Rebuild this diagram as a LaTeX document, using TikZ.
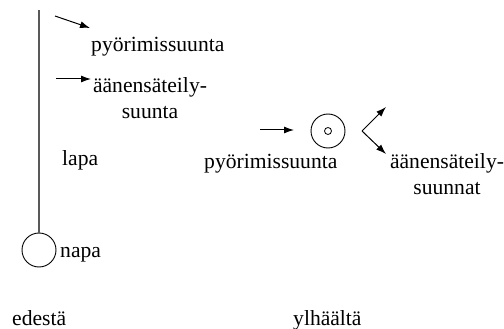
\documentclass[tikz,border=0pt]{standalone}
\usepackage{fontspec}
\setmainfont{Liberation Serif}
\usetikzlibrary{arrows.meta}
\begin{document}
\begin{tikzpicture}[x=1pt,y=-1pt,
  lbl/.style={inner sep=0pt,font=\fontsize{21.6}{26.5}\selectfont},
  mlbl/.style={lbl,align=center},
  arr/.style={line width=1pt,-{Latex[length=10pt,width=7pt]}},
  ring/.style={circle,draw,line width=0.9pt,inner sep=0pt,minimum size=34pt}]
\useasboundingbox (0,0) rectangle (504,329);

% front view: blade and hub
\coordinate (bladetop) at (39,10);
\node[ring] (hub) at (39,250) {};
\draw[line width=1.2pt,black!65] (bladetop) -- (hub.north);
\node[lbl,anchor=base west] (napa) at (60,257) {napa};
\node[lbl,anchor=base west] (lapa) at (62,165) {lapa};

\coordinate (r1s) at (55,16);
\coordinate (r1e) at (90,28);
\draw[arr] (r1s) -- (r1e);
\node[lbl,anchor=base west] (rot1) at (91,52) {pyörimissuunta};

\coordinate (s1s) at (56,79);
\coordinate (s1e) at (91,79);
\draw[arr] (s1s) -- (s1e);
% for a two-line node the base anchor sits on the last line
\node[mlbl,anchor=base] (snd1) at (150,118.5) {äänensäteily-\\suunta};

\node[lbl,anchor=base west] (front) at (12,325) {edestä};

% top view
\node[ring] (hubtop) at (328,131) {};
\node[circle,draw,line width=0.8pt,inner sep=0pt,minimum size=7pt] (axis) at (328,131) {};
\coordinate (r2s) at (260,130);
\coordinate (r2e) at (294,130);
\draw[arr] (r2s) -- (r2e);
\node[lbl,anchor=base west] (rot2) at (204,168) {pyörimissuunta};

\coordinate (vtx) at (362,131);
\coordinate (vup) at (386,107);
\coordinate (vdn) at (386,154);
\draw[arr] (vtx) -- (vup);
\draw[arr] (vtx) -- (vdn);
\node[mlbl,anchor=base] (snd2) at (447,194.5) {äänensäteily-\\suunnat};

\node[lbl,anchor=base west] (top) at (293,325) {ylhäältä};
\end{tikzpicture}
\end{document}
